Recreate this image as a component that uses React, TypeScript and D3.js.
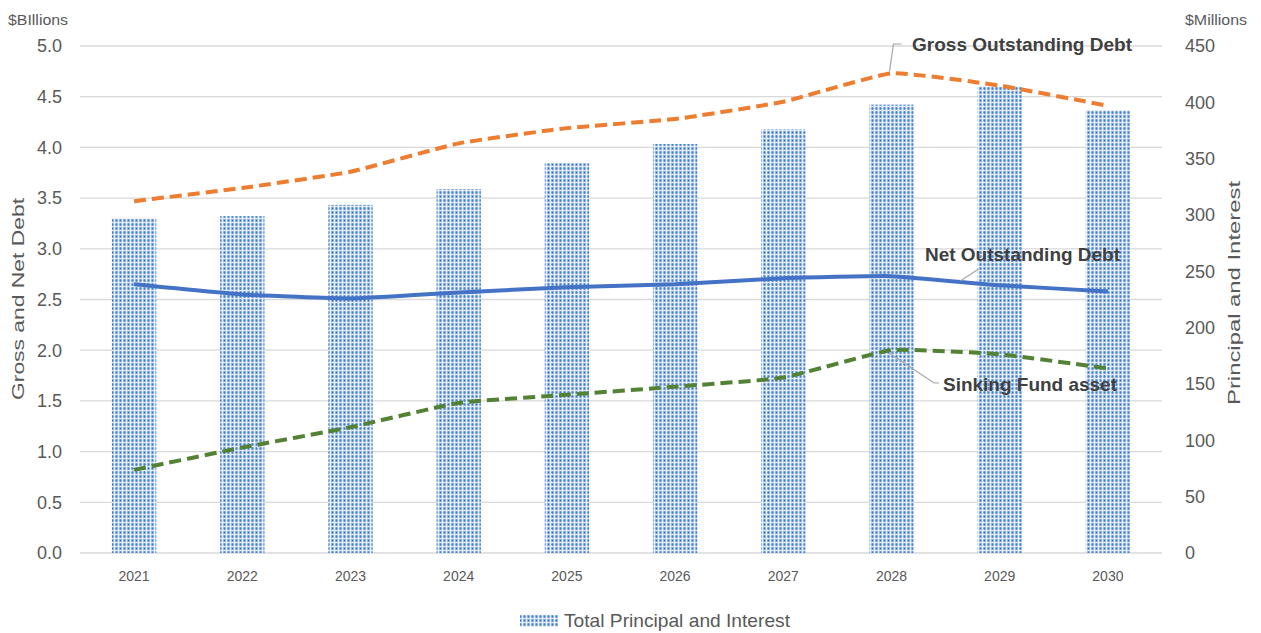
import React from "react";
import * as d3 from "d3";

// Fiscal years
const years = ["2021", "2022", "2023", "2024", "2025", "2026", "2027", "2028", "2029", "2030"];
// Total principal and interest, $ millions (right axis)
const principalInterest = [297, 299, 309, 323, 346, 363, 376, 398, 414, 393];
// Gross outstanding debt, $ billions
const grossDebt = [3.47, 3.6, 3.76, 4.04, 4.19, 4.28, 4.45, 4.73, 4.61, 4.41];
// Net outstanding debt, $ billions
const netDebt = [2.65, 2.55, 2.51, 2.57, 2.62, 2.65, 2.71, 2.73, 2.64, 2.58];
// Sinking fund asset, $ billions
const sinkingFund = [0.82, 1.04, 1.24, 1.48, 1.56, 1.64, 1.73, 2.0, 1.96, 1.82];

const leftTicks = [0, 0.5, 1, 1.5, 2, 2.5, 3, 3.5, 4, 4.5, 5];
const rightTicks = [0, 50, 100, 150, 200, 250, 300, 350, 400, 450];

const W = 1261;
const H = 633;
const M = { left: 80, right: 1162, top: 46, bottom: 553 };

const axisFont = "'Liberation Sans', Arial, sans-serif";
const labelFont = "'Liberation Sans Narrow', 'Arial Narrow', 'Liberation Sans', Arial, sans-serif";
const textColor = "#595959";

export default function App() {
  const x = d3.scaleBand<string>().domain(years).range([M.left, M.right]).paddingInner(0.59).paddingOuter(0.295);
  const xc = (y: string) => (x(y) as number) + x.bandwidth() / 2;
  const yL = d3.scaleLinear().domain([0, 5]).range([M.bottom, M.top]);
  const yR = d3.scaleLinear().domain([0, 450]).range([M.bottom, M.top]);

  const line = d3
    .line<number>()
    .x((_, i) => xc(years[i]))
    .y((v) => yL(v))
    .curve(d3.curveCardinal.tension(0.6));

  const i2028 = years.indexOf("2028");
  const i2029 = years.indexOf("2029");

  return (
    <svg width={W} height={H} style={{ display: "block", position: "absolute", left: 0, top: 0 }}>
      <defs>
        <pattern id="checker" width={4} height={4} patternUnits="userSpaceOnUse">
          <rect width={4} height={4} fill="#9fbfe9" />
          <rect x={0} y={0} width={1} height={4} fill="#6696d8" />
          <rect x={0} y={0} width={4} height={1} fill="#7ca6e0" />
          <rect x={2} y={0} width={1} height={4} fill="#e6effb" />
          <rect x={0} y={2} width={4} height={1} fill="#dbe7f8" />
          <rect x={2} y={2} width={1} height={1} fill="#ffffff" />
          <rect x={0} y={0} width={1} height={1} fill="#4a7fc9" />
        </pattern>
      </defs>
      <rect width={W} height={H} fill="#ffffff" />

      {/* gridlines */}
      {leftTicks.map((t) => (
        <line key={t} x1={M.left} x2={M.right} y1={yL(t)} y2={yL(t)} stroke="#d9d9d9" strokeWidth={1.3} />
      ))}

      {/* bars */}
      {years.map((yr, i) => (
        <rect
          key={yr}
          x={x(yr)}
          y={yR(principalInterest[i])}
          width={x.bandwidth()}
          height={M.bottom - yR(principalInterest[i])}
          fill="url(#checker)"
        />
      ))}

      {/* lines */}
      <path d={line(sinkingFund) || ""} fill="none" stroke="#548235" strokeWidth={4} strokeDasharray="12 6" />
      <path d={line(netDebt) || ""} fill="none" stroke="#4472c4" strokeWidth={4} />
      <path d={line(grossDebt) || ""} fill="none" stroke="#ed7d31" strokeWidth={4} strokeDasharray="12 6" />

      {/* left axis */}
      {leftTicks.map((t) => (
        <text key={t} x={62} y={yL(t)} dy="0.35em" textAnchor="end" fontFamily={axisFont} fontSize={18} fill={textColor}>
          {t.toFixed(1)}
        </text>
      ))}
      {/* right axis */}
      {rightTicks.map((t) => (
        <text key={t} x={1185} y={yR(t)} dy="0.35em" textAnchor="start" fontFamily={axisFont} fontSize={18} fill={textColor}>
          {t}
        </text>
      ))}
      {/* x axis */}
      {years.map((yr) => (
        <text key={yr} x={xc(yr)} y={581} textAnchor="middle" fontFamily={axisFont} fontSize={14} fill={textColor}>
          {yr}
        </text>
      ))}

      <text x={8} y={25} fontFamily={axisFont} fontSize={14} fill={textColor} textLength={60} lengthAdjust="spacingAndGlyphs">
        $BIllions
      </text>
      <text x={1185} y={25} fontFamily={axisFont} fontSize={14} fill={textColor} textLength={62} lengthAdjust="spacingAndGlyphs">
        $Millions
      </text>
      <text
        transform={`translate(24,299) rotate(-90)`}
        textAnchor="middle"
        fontFamily={axisFont}
        fontSize={17}
        fill={textColor}
        textLength={202}
        lengthAdjust="spacingAndGlyphs"
      >
        Gross and Net Debt
      </text>
      <text
        transform={`translate(1240,293) rotate(-90)`}
        textAnchor="middle"
        fontFamily={axisFont}
        fontSize={17}
        fill={textColor}
        textLength={224}
        lengthAdjust="spacingAndGlyphs"
      >
        Principal and Interest
      </text>

      {/* annotations */}
      <polyline
        points={`${xc("2028") - 2},${yL(grossDebt[i2028]) - 2} ${xc("2028") + 2},${44} ${xc("2028") + 10},${44}`}
        fill="none"
        stroke="#a6a6a6"
        strokeWidth={1.2}
      />
      <text x={912} y={51} fontFamily={labelFont} fontWeight="bold" fontSize={19} fill="#404040" textLength={220} lengthAdjust="spacingAndGlyphs">
        Gross Outstanding Debt
      </text>

      <line
        x1={(xc("2028") + xc("2029")) / 2 + 15}
        y1={yL((netDebt[i2028] + netDebt[i2029]) / 2)}
        x2={(xc("2028") + xc("2029")) / 2 + 33}
        y2={269}
        stroke="#a6a6a6"
        strokeWidth={1.2}
      />
      <text x={925} y={261} fontFamily={labelFont} fontWeight="bold" fontSize={19} fill="#404040" textLength={195} lengthAdjust="spacingAndGlyphs">
        Net Outstanding Debt
      </text>

      <polyline
        points={`${xc("2028") - 2},${yL(sinkingFund[i2028]) + 3} ${934},${383} ${939},${383}`}
        fill="none"
        stroke="#a6a6a6"
        strokeWidth={1.2}
      />
      <text x={943} y={391} fontFamily={labelFont} fontWeight="bold" fontSize={19} fill="#404040" textLength={174} lengthAdjust="spacingAndGlyphs">
        Sinking Fund asset
      </text>

      {/* legend */}
      <rect x={520} y={615} width={38} height={12} fill="url(#checker)" />
      <text x={564} y={627} fontFamily={axisFont} fontSize={19} fill={textColor} textLength={226} lengthAdjust="spacingAndGlyphs">
        Total Principal and Interest
      </text>
    </svg>
  );
}
